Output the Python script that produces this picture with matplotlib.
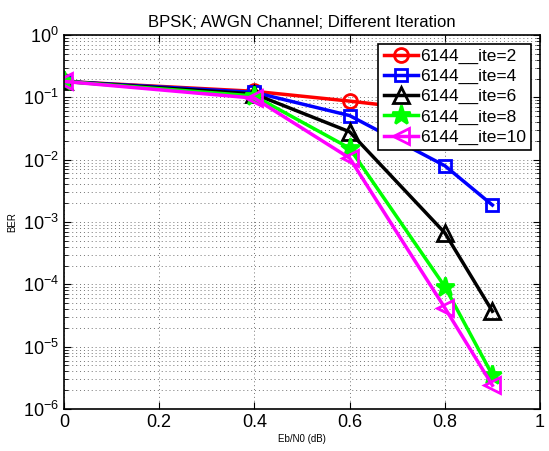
import numpy as np
import matplotlib
matplotlib.use("Agg")
import matplotlib.pyplot as plt
from matplotlib.ticker import NullFormatter

plt.rcParams['font.family'] = ['Liberation Sans', 'DejaVu Sans']

# Eb/N0 points (dB)
ebn0 = [0.0, 0.4, 0.6, 0.8, 0.9]

# BER per iteration count
ber_ite2 = [0.18, 0.125, 0.087, 0.058, 0.045]
ber_ite4 = [0.18, 0.12, 0.051, 0.0080, 0.00187]
ber_ite6 = [0.18, 0.113, 0.028, 6.7e-4, 3.7e-5]
ber_ite8 = [0.18, 0.105, 0.0153, 9.2e-5, 3.5e-6]
ber_ite10 = [0.18, 0.097, 0.0106, 4.2e-5, 2.4e-6]

labels = ['6144__ite=2', '6144__ite=4', '6144__ite=6', '6144__ite=8', '6144__ite=10']

fig = plt.figure(figsize=(5.49, 4.51), dpi=100)
ax = fig.add_axes([0.1166, 0.0931, 0.867, 0.8293])

styles = [
    (ber_ite2, 'red', 'o', 'none', 10),
    (ber_ite4, 'blue', 's', 'none', 9),
    (ber_ite6, 'black', '^', 'none', 11),
    (ber_ite8, 'lime', '*', 'lime', 14),
    (ber_ite10, 'magenta', '<', 'none', 12),
]
for (vals, col, mk, fc, ms), lab in zip(styles, labels):
    ax.semilogy(ebn0, vals, color=col, marker=mk, markerfacecolor=fc,
                markeredgecolor=col, markersize=ms, markeredgewidth=2,
                linewidth=2.5, label=lab)

ax.set_xlim(0, 1)
ax.set_ylim(1e-6, 1)
ax.set_xticks([0, 0.2, 0.4, 0.6, 0.8, 1])
ax.set_xticklabels(['0', '0.2', '0.4', '0.6', '0.8', '1'])
ax.yaxis.set_minor_formatter(NullFormatter())
ax.tick_params(which='both', direction='in', top=True, right=True, labelsize=13)
ax.tick_params(which='major', length=5)
ax.tick_params(which='minor', length=3)
dots = (0, (1, 3))
ax.grid(True, which='major', linestyle=dots, color='0.45', linewidth=0.7)
ax.grid(True, which='minor', axis='y', linestyle=dots, color='0.45', linewidth=0.7)
for s in ax.spines.values():
    s.set_linewidth(1.2)

ax.set_title('BPSK; AWGN Channel; Different Iteration', fontsize=12, pad=6)
ax.set_xlabel('Eb/N0 (dB)', fontsize=7, labelpad=2)
ax.set_ylabel('BER', fontsize=7, labelpad=4)

leg = ax.legend(loc='upper right', fontsize=12.5, fancybox=False, framealpha=1,
                edgecolor='black', borderpad=0.3, labelspacing=0.28,
                handlelength=2.0, handletextpad=0.1, borderaxespad=0.5)
leg.get_frame().set_linewidth(1.2)
leg.set_zorder(10)

fig.savefig('out.png', dpi=100)
